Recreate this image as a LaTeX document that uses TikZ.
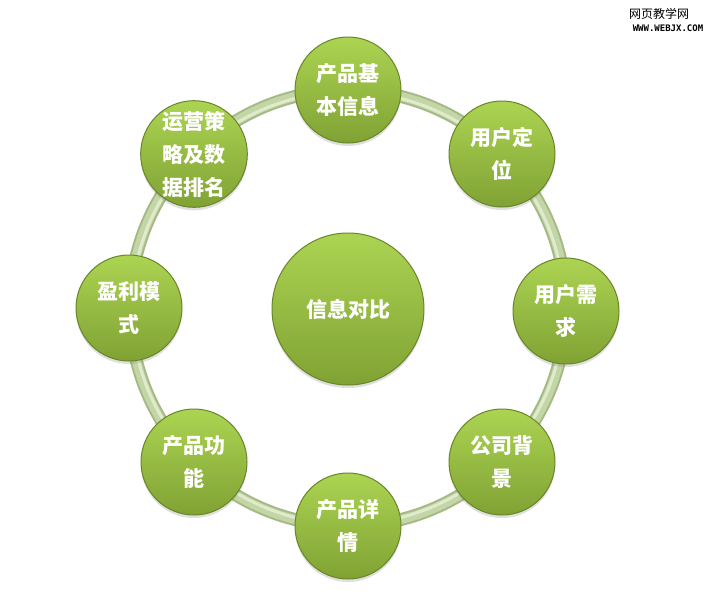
\documentclass[tikz,border=0pt]{standalone}
\usepackage{fontspec}
\newfontfamily\cjk{Noto Sans CJK SC}
\newfontfamily\wmono{DejaVu Sans Mono}
\usetikzlibrary{shadows}
\definecolor{gtop}{RGB}{172,212,82}
\definecolor{gbot}{RGB}{128,162,52}
\definecolor{gline}{RGB}{104,134,40}
\definecolor{ringdark}{RGB}{165,185,135}
\definecolor{ringmid}{RGB}{196,214,166}
\definecolor{ringlight}{RGB}{224,234,204}
\tikzset{
  ball/.style={circle, minimum size=106pt, inner sep=0pt,
    top color=gtop, bottom color=gbot, draw=gline, line width=1pt,
    drop shadow={opacity=0.25, shadow xshift=0pt, shadow yshift=-3pt},
    text=white, align=center,
    font=\cjk\bfseries\fontsize{21}{33}\selectfont},
  bigball/.style={ball, minimum size=152pt},
}
\begin{document}
\begin{tikzpicture}[x=1pt,y=-1pt]
\useasboundingbox[fill=white] (0,0) rectangle (715,614);
\coordinate (c) at (348,308);
% ring
\draw[ringdark, line width=13pt] (c) circle[radius=218];
\draw[ringmid, line width=9pt] (c) circle[radius=218];
\draw[ringlight, line width=3pt] (c) circle[radius=216];
% nodes
\node[bigball] (center) at (348,309) {信息对比};
\node[ball] (n1) at (348,90) {产品基\\本信息};
\node[ball] (n2) at (502,154) {用户定\\位};
\node[ball] (n3) at (566,311) {用户需\\求};
\node[ball] (n4) at (502,462) {公司背\\景};
\node[ball] (n5) at (348,526) {产品详\\情};
\node[ball] (n6) at (194,462) {产品功\\能};
\node[ball] (n7) at (129,308) {盈利模\\式};
\node[ball] (n8) at (194,154) {运营策\\略及数\\据排名};
% watermark
\node[font=\cjk\fontsize{12}{12}\selectfont, text=black, inner sep=0pt] (wm1) at (659,14) {网页教学网};
\node[font=\wmono\bfseries\fontsize{9}{9}\selectfont, text=black, inner sep=0pt] (wm2) at (668,28) {WWW.WEBJX.COM};
\end{tikzpicture}
\end{document}
